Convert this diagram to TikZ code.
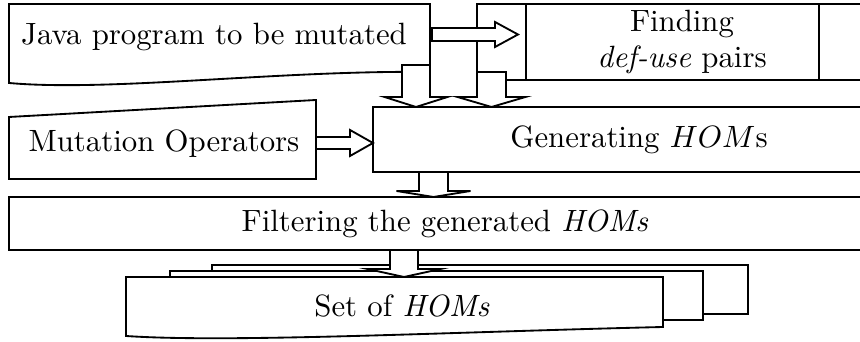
\documentclass[tikz,border=0pt]{standalone}
\usetikzlibrary{calc,fit}
\newcommand\pxu{0.3247pt}
\tikzset{
  box/.style={draw, inner sep=0pt, outer sep=0pt},
  blockdown/.style n args={3}{draw, fill=white, to path={let \p1=(\tikztostart), \p2=(\tikztotarget) in
    (\x1-#1*\pxu,\y1) -- (\x1-#1*\pxu,\y2+#3*\pxu) -- (\x1-#2*\pxu,\y2+#3*\pxu) -- (\x1,\y2)
    -- (\x1+#2*\pxu,\y2+#3*\pxu) -- (\x1+#1*\pxu,\y2+#3*\pxu) -- (\x1+#1*\pxu,\y1) -- cycle}},
  blockright/.style n args={3}{draw, fill=white, to path={let \p1=(\tikztostart), \p2=(\tikztotarget) in
    (\x1,\y1+#1*\pxu) -- (\x2-#3*\pxu,\y1+#1*\pxu) -- (\x2-#3*\pxu,\y1+#2*\pxu) -- (\x2,\y1)
    -- (\x2-#3*\pxu,\y1-#2*\pxu) -- (\x2-#3*\pxu,\y1-#1*\pxu) -- (\x1,\y1-#1*\pxu) -- cycle}}
}
\begin{document}
\begin{tikzpicture}[x=\pxu, y=-\pxu, line width=0.6pt]
  \useasboundingbox (0,0) rectangle (860,342);
  \clip (0,0) rectangle (860,342);

  \draw (9,4) -- (430,4) -- (430,72) .. controls (280,70) and (110,92) .. (9,83) -- cycle;
  \node (java) at (214,37) {Java program to be mutated};

  \node[box, fit={(477,4) (887,80)}, label={[align=center]center:Finding\\ \textit{def-use} pairs}] (find) {};
  \draw (526,4) -- (526,80) (819,4) -- (819,80);

  \draw (9,117) -- (316,100) -- (316,179) -- (9,179) -- cycle;
  \node (mo) at (164,144) {Mutation Operators};

  \node[box, fit={(373,107) (905,172)}, label=center:{Generating $HOM$s}] (gen) {};
  \node[box, fit={(9,197) (881,250)}, label=center:{Filtering the generated \textit{HOMs}}] (filter) {};

  \draw[fill=white] (212,265) rectangle (748,314);
  \draw[fill=white] (170,271) rectangle (703,320);
  \draw[fill=white] (126,277) -- (663,277) -- (663,327) .. controls (450,332) and (230,343) .. (126,336) -- cycle;
  \node (set) at (402,306) {Set of \textit{HOMs}};

  \coordinate (javaright) at (432,34.5);
  \coordinate (findin) at (518,34.5);
  \coordinate (javaout) at (416,65);
  \coordinate (findout) at (491.5,72);
  \coordinate (moout) at (316,143);
  \coordinate (genout) at (433.5,172);
  \coordinate (filterout) at (404,250);
  \coordinate (setin) at (404,277);

  \path[blockright={6.5}{12.5}{23}] (javaright) to (findin);
  \path[blockdown={14}{31.5}{10}] (javaout) to (javaout |- gen.north);
  \path[blockdown={14.5}{34}{10}] (findout) to (findout |- gen.north);
  \path[blockright={6}{13}{23}] (moout) to (moout -| gen.west);
  \path[blockdown={14.5}{37}{6}] (genout) to (genout |- filter.north);
  \path[blockdown={14}{36.5}{8}] (filterout) to (setin);
\end{tikzpicture}
\end{document}
